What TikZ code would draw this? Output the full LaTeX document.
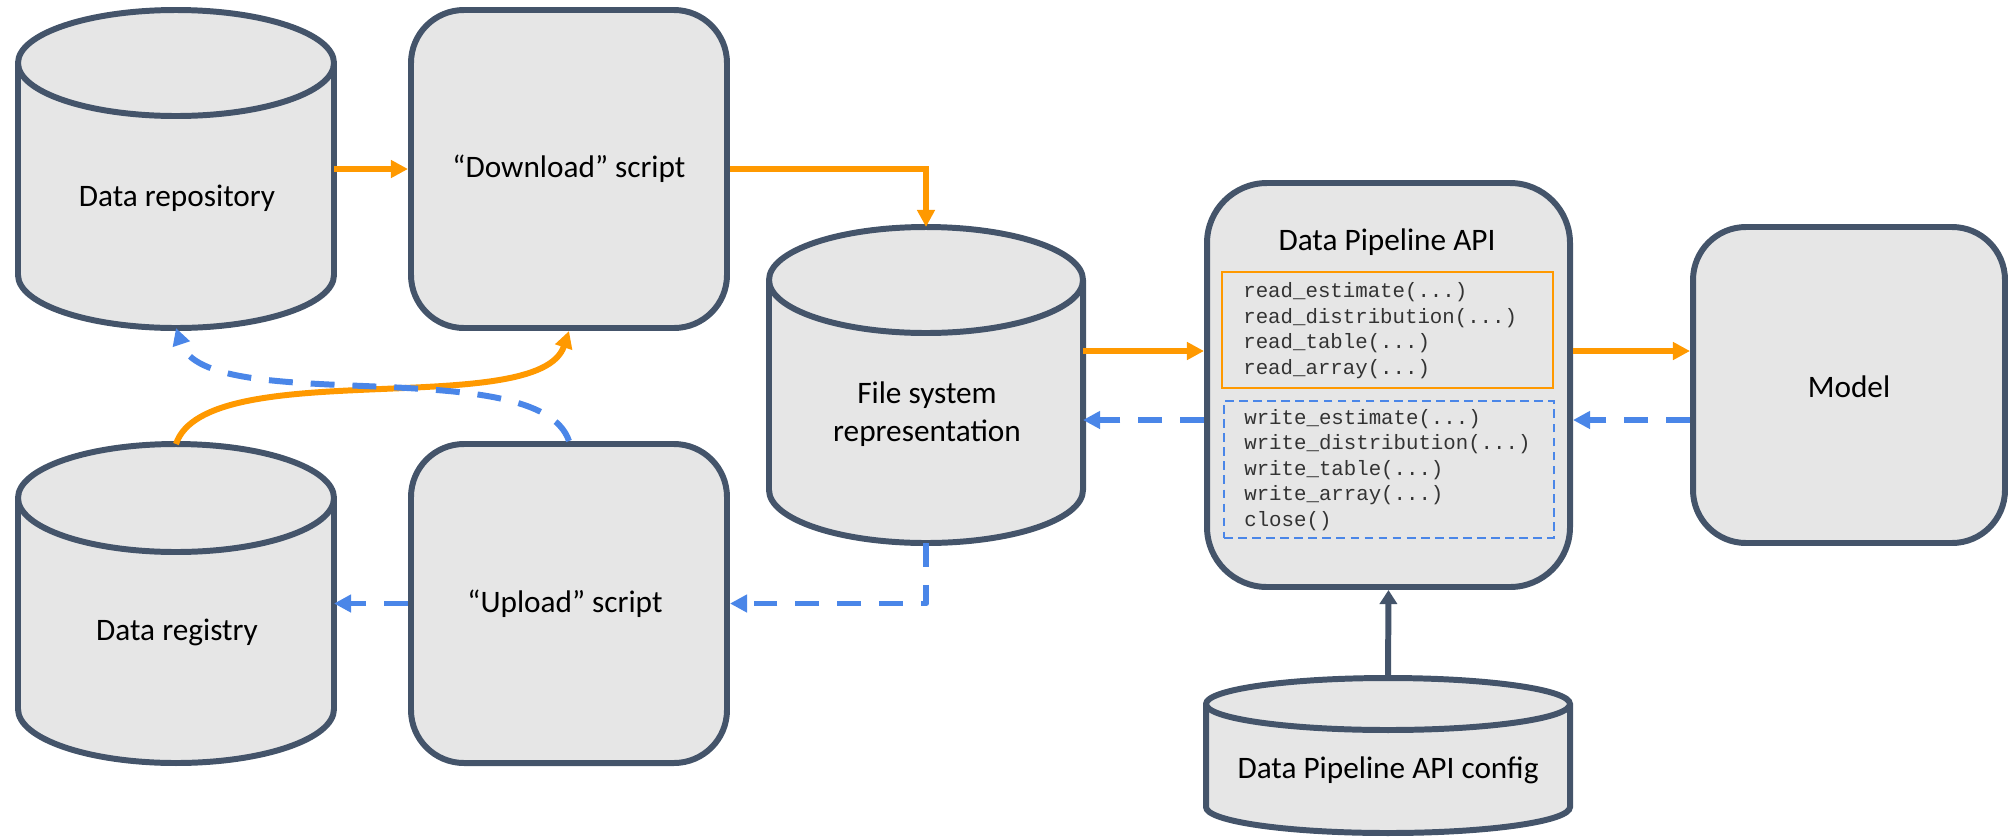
\documentclass[tikz,border=0pt]{standalone}
\usepackage{fontspec}
\setmainfont{Carlito}
\newfontfamily\codefont{Liberation Mono}
\usetikzlibrary{arrows.meta,calc,fit}

\definecolor{edge}{HTML}{44546A}
\definecolor{boxfill}{HTML}{E6E6E6}
\definecolor{flowout}{HTML}{FF9900}
\definecolor{flowin}{HTML}{4A86E8}

\tikzset{
  label text/.style={font=\fontsize{17.8}{21.6}\selectfont, align=center, inner sep=0pt},
  code text/.style={font=\codefont\fontsize{11.8}{14.5}\selectfont, text=black!80,
    align=left, inner sep=0pt, anchor=west},
  roundbox/.style={draw=edge, fill=boxfill, line width=3.4pt, rounded corners=#1, inner sep=0pt},
  holder/.style={inner sep=0pt, outer sep=0pt},
  readflow/.style={draw=flowout, line width=3.4pt, -{Triangle[length=9.7pt,width=9.7pt]}},
  writeflow/.style={draw=flowin, line width=3.4pt, dash pattern=on 13.6pt off 10.2pt,
    line join=round, -{Triangle[length=9.7pt,width=9.7pt]}},
  configflow/.style={draw=edge, line width=3.4pt, -{Triangle[length=8pt,width=9.7pt]}},
}

% cylinder: name, left, top, right, bottom, ellipse half-height
\newcommand\drumshape[6]{%
  \node[holder, fit={(#2,#3) (#4,#5)}] (#1) {};
  \filldraw[fill=boxfill, draw=edge, line width=3.4pt]
    (#2,#3+#6) -- (#2,#5-#6)
    arc[start angle=180, end angle=0, x radius={(#4-#2)/2}, y radius=#6]
    -- (#4,#3+#6)
    arc[start angle=0, end angle=-180, x radius={(#4-#2)/2}, y radius=#6]
    -- cycle;
  \draw[edge, line width=3.4pt] (#2,#3+#6)
    arc[start angle=180, end angle=0, x radius={(#4-#2)/2}, y radius=#6];
}

\begin{document}
\begin{tikzpicture}[x=0.02cm, y=-0.02cm]
\useasboundingbox (0,0) rectangle (2008,836);

% storage
\drumshape{repo}{18}{10}{334}{328}{53}
\drumshape{registry}{18}{444}{334}{763}{54}
\drumshape{fs}{769}{227}{1083}{543}{53}
\drumshape{config}{1206}{678}{1570}{833}{26}

\node[label text] (repotext) at (177,198) {Data repository};
\node[label text] (registrytext) at (177,632) {Data registry};
\node[label text] (fstext) at (927,414) {File system\\representation};
\node[label text] (configtext) at (1388,770) {Data Pipeline API config};

% scripts, API and model
\node[roundbox=1.06cm, fit={(411,10) (727,328)}] (download) {};
\node[roundbox=1.06cm, fit={(411,444) (727,763)}] (upload) {};
\node[roundbox=1.2cm, fit={(1207,183) (1570,587)}] (api) {};
\node[roundbox=1.06cm, fit={(1693,227) (2005,543)}] (model) {};

\node[label text] (downloadtext) at (569,169) {“Download” script};
\node[label text] (uploadtext) at (565,604) {“Upload” script};
\node[label text] (modeltext) at (1849,387) {Model};
\node[label text] (apititle) at (1387,242) {Data Pipeline API};

% API function groups
\node[holder, draw=flowout, line width=1.1pt, fit={(1222,272) (1553,388)}] (readbox) {};
\node[holder, draw=flowin, line width=1.1pt, dash pattern=on 5pt off 3pt,
      fit={(1224,401) (1554,538)}] (writebox) {};
\node[code text] (readlist) at (1243,330.5)
  {read\_estimate(...)\\read\_distribution(...)\\read\_table(...)\\read\_array(...)};
\node[code text] (writelist) at (1244,470)
  {write\_estimate(...)\\write\_distribution(...)\\write\_table(...)\\write\_array(...)\\close()};

% connector rows
\coordinate (rowread) at (0,351);
\coordinate (rowwrite) at (0,420);

% read direction
\draw[readflow] (repo.east) -- (download.west);
\draw[readflow] (download.east) -| (fs.north);
\draw[readflow] (fs.east |- rowread) -- (api.west |- rowread);
\draw[readflow] (api.east |- rowread) -- (model.west |- rowread);
\draw[readflow] (registry.north) .. controls +(30,-90) and +(-30,90) .. (download.south);

% write direction
\draw[writeflow] (model.west |- rowwrite) -- (api.east |- rowwrite);
\draw[writeflow] (api.west |- rowwrite) -- (fs.east |- rowwrite);
\draw[writeflow] (fs.south) |- (upload.east);
\draw[writeflow] (upload.west) -- (registry.east);
\draw[writeflow] (upload.north) .. controls +(-30,-90) and +(30,90) .. (repo.south);

% configuration
\draw[configflow] (config.north) -- (api.south);
\end{tikzpicture}
\end{document}
